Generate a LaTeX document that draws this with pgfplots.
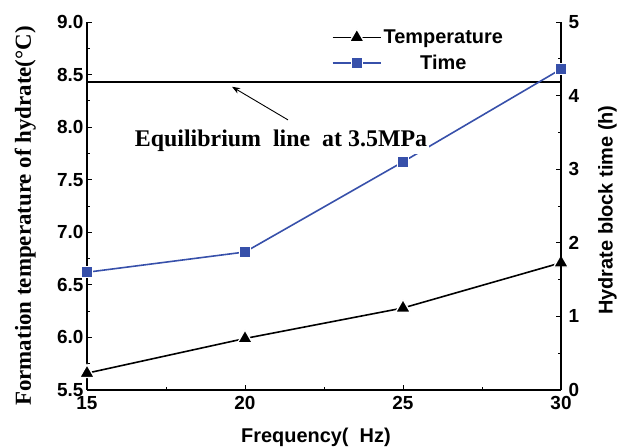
\documentclass[border=0pt]{standalone}
\usepackage{fontspec}
\setmainfont{Liberation Sans}
\newfontfamily\serif{Liberation Serif}
\usepackage{pgfplots}
\pgfplotsset{compat=1.18}
\usetikzlibrary{arrows.meta}
\definecolor{tblue}{RGB}{55,80,170}
\begin{document}
\begin{tikzpicture}
\useasboundingbox (-87bp,-57bp) rectangle (531bp,390bp);
\pgfplotsset{
  base/.style={
    at={(0,0)}, anchor=south west,
    scale only axis, width=474bp, height=368bp,
    xmin=15, xmax=30,
    tick align=inside,
    major tick length=5bp, minor tick length=3bp,
    axis line style={line width=1.2pt},
    every tick/.style={line width=1pt, black},
    tick label style={font=\bfseries\fontsize{19}{22}\selectfont},
    /pgf/number format/assume math mode=true,
    label style={font=\bfseries\fontsize{20}{24}\selectfont},
  }
}
\begin{axis}[base,
  ymin=5.5, ymax=9.0,
  axis x line*=bottom, axis y line*=left,
  xtick={15,20,25,30}, minor x tick num=1,
  xticklabel style={yshift=-3bp},
  ytick={5.5,6,6.5,7,7.5,8,8.5,9}, minor y tick num=1,
  yticklabel style={/pgf/number format/.cd, fixed, fixed zerofill, precision=1},
  xlabel={Frequency(\ \ Hz)},
  xlabel style={at={(axis description cs:0.483,-0.128)}, anchor=center},
  ylabel={\serif\bfseries\fontsize{23}{27}\selectfont Formation temperature of hydrate(°C)},
  ylabel style={at={(axis description cs:-0.13,0.473)}, anchor=center, rotate=0},
]
\addplot[black, line width=1.6pt, forget plot] coordinates {(15,8.43) (30,8.43)};
\addplot[black, line width=1.6pt, mark=triangle*, mark size=8.5bp,
  mark options={draw=white, line width=1.3pt, fill=black}]
  coordinates {(15,5.66) (20,5.99) (25,6.28) (30,6.71)};
\end{axis}
\begin{axis}[base,
  ymin=0, ymax=5,
  axis y line*=right, axis x line=none,
  ytick={0,1,2,3,4,5}, minor y tick num=1,
  yticklabel style={xshift=4bp},
  ylabel={Hydrate block time (h)},
  ylabel style={at={(axis description cs:1.098,0.489)}, anchor=center, rotate=0},
  legend style={at={(axis description cs:0.51,0.99)}, anchor=north west, draw=none, fill=none,
    font=\bfseries\fontsize{20}{24}\selectfont, row sep=6bp},
  legend cell align=center,
  legend image code/.code={\draw[mark repeat=2,mark phase=2] plot coordinates {(0cm,0cm) (0.85cm,0cm) (1.7cm,0cm)};},
]
\addlegendimage{black, line width=1.6pt, mark=triangle*, mark size=8.5bp,
  mark options={draw=white, line width=1.3pt, fill=black}}
\addlegendentry{Temperature}
\addplot[tblue, line width=1.6pt, mark=square*, mark size=5.5bp,
  mark options={draw=white, line width=1.4pt, fill=tblue}]
  coordinates {(15,1.60) (20,1.875) (25,3.10) (30,4.36)};
\addlegendentry{Time}
\node[fill=white, inner sep=2bp, font=\serif\bfseries\fontsize{24}{28}\selectfont] at (axis cs:21.14,3.38) {Equilibrium\ \ line\ \ at 3.5MPa};
\draw[-{Stealth[length=8bp,width=6bp]}, line width=0.9pt] (axis cs:21.36,3.67) -- (axis cs:19.59,4.12);
\end{axis}
\end{tikzpicture}
\end{document}
